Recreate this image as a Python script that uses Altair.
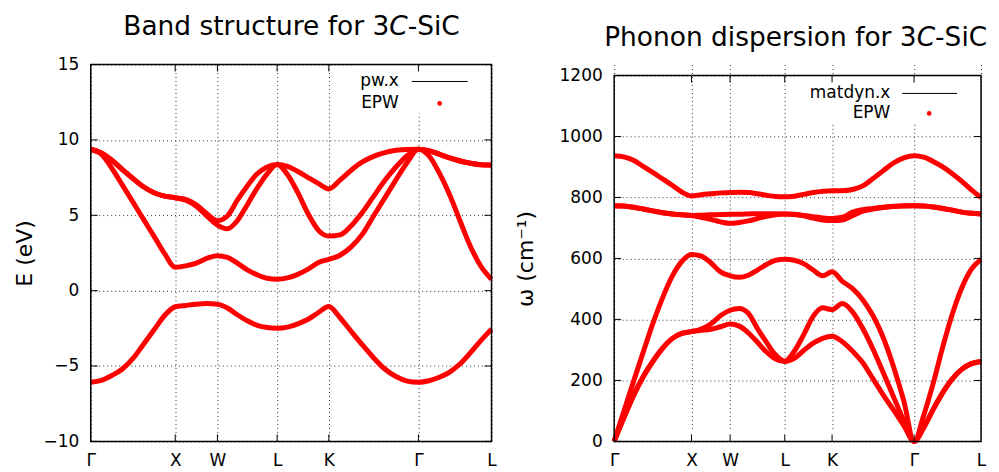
import altair as alt
import pandas as pd

# ---------------- data ----------------
K_PATH = [0.0, 0.125, 0.25, 0.375, 0.5, 0.625, 0.75, 0.875, 1.0,
          1.125, 1.25, 1.375, 1.5,
          1.618, 1.736, 1.854, 1.971, 2.089, 2.207,
          2.329, 2.452, 2.574, 2.697, 2.819,
          2.952, 3.084, 3.217, 3.349, 3.482, 3.614, 3.747, 3.880,
          4.004, 4.127, 4.251, 4.375, 4.499, 4.622, 4.746]
NODE_K = [0.0, 1.0, 1.5, 2.207, 2.819, 3.880, 4.746]
NODE_LABELS = ["Γ", "X", "W", "L", "K", "Γ", "L"]

# electronic bands (eV)
BAND_1 = [-6.08, -5.95, -5.63, -5.2, -4.5, -3.55, -2.6, -1.65, -1.07,
          -0.98, -0.9, -0.86, -0.9,
          -1.15, -1.6, -2.0, -2.3, -2.45, -2.5,
          -2.42, -2.2, -1.9, -1.45, -1.05,
          -1.8, -2.7, -3.6, -4.45, -5.2, -5.7, -6.0, -6.08,
          -5.98, -5.75, -5.4, -4.85, -4.1, -3.3, -2.55]
BAND_2 = [9.38, 9.05, 8.12, 7.0, 5.87, 4.73, 3.6, 2.45, 1.55,
          1.64, 1.82, 2.15, 2.32,
          2.21, 1.82, 1.38, 1.05, 0.82, 0.76,
          0.85, 1.08, 1.43, 1.87, 2.08,
          2.35, 2.9, 3.75, 4.95, 6.15, 7.35, 8.5, 9.38,
          8.95, 7.81, 6.35, 4.6, 2.9, 1.6, 0.75]
BAND_3 = [9.38, 9.13, 8.65, 8.03, 7.44, 6.89, 6.49, 6.27, 6.16,
          6.0, 5.6, 4.95, 4.35,
          4.1, 4.65, 5.7, 6.8, 7.75, 8.37,
          7.7, 6.5, 5.1, 4.0, 3.62,
          3.7, 4.3, 5.2, 6.25, 7.3, 8.2, 8.95, 9.38,
          9.28, 9.05, 8.8, 8.6, 8.45, 8.35, 8.33]
BAND_4 = [9.38, 9.13, 8.65, 8.03, 7.44, 6.89, 6.49, 6.27, 6.16,
          6.05, 5.7, 5.1, 4.64,
          4.95, 6.0, 6.95, 7.75, 8.21, 8.37,
          8.25, 7.9, 7.5, 7.1, 6.75,
          7.33, 7.99, 8.54, 8.91, 9.16, 9.31, 9.37, 9.38,
          9.28, 9.05, 8.8, 8.6, 8.45, 8.35, 8.33]

# phonon branches (cm^-1)
TA_1 = [0, 77, 150, 212, 262, 305, 337, 354, 360,
        364, 368, 376, 385,
        378, 356, 325, 293, 270, 262,
        272, 298, 322, 338, 345,
        327, 296, 258, 205, 152, 103, 52, 0,
        45, 105, 160, 205, 237, 255, 262]
TA_2 = [0, 77, 150, 212, 262, 305, 337, 354, 360,
        368, 385, 412, 430,
        436, 420, 370, 325, 283, 263,
        295, 350, 410, 438, 432,
        452, 425, 370, 302, 225, 146, 68, 0,
        45, 105, 160, 205, 237, 255, 262]
LA = [0, 98, 196, 292, 386, 470, 541, 590, 613,
      608, 586, 556, 543,
      538, 545, 562, 580, 594, 597,
      594, 583, 562, 543, 556,
      525, 501, 464, 412, 340, 245, 133, 0,
      85, 190, 310, 418, 505, 565, 597]
TO_1 = [773, 772, 768, 762, 756, 750, 746, 743, 741,
        735, 728, 720, 715,
        718, 723, 731, 738, 743, 746,
        745, 740, 732, 726, 724,
        726, 740, 755, 762, 767, 770, 772, 773,
        772, 769, 764, 758, 752, 748, 746]
TO_2 = [773, 772, 768, 762, 756, 750, 746, 743, 741,
        742, 743, 744, 745,
        745, 746, 747, 747, 747, 746,
        744, 741, 737, 733, 731,
        735, 752, 760, 764, 768, 771, 773, 773,
        772, 769, 764, 758, 752, 748, 746]
LO = [937, 933, 922, 902, 882, 861, 840, 818, 805,
      809, 812, 815, 816,
      817, 816, 812, 807, 803, 802,
      804, 810, 816, 820, 822,
      822, 826, 838, 862, 888, 913, 930, 937,
      932, 918, 900, 878, 853, 825, 800]

E_TICKS = [-10, -5, 0, 5, 10, 15]
W_TICKS = [0, 200, 400, 600, 800, 1000, 1200]

FONT = "DejaVu Sans"
RED = "#ff0000"


def long_df(bands):
    rows = []
    for name, vals in bands.items():
        for k, v in zip(K_PATH, vals):
            rows.append({"k": k, "v": v, "band": name})
    return pd.DataFrame(rows)


mids = [(NODE_K[i] + NODE_K[i + 1]) / 2 for i in range(len(NODE_K) - 1)]
label_expr = ""
for m, lab in zip(mids, NODE_LABELS[:-1]):
    label_expr += f"datum.value < {m:.4f} ? '{lab}' : "
label_expr += f"'{NODE_LABELS[-1]}'"

ONE = alt.Data(values=[{"a": 1}])


def text_mark(txt, x, y, align="left", size=17, style="normal", baseline="middle"):
    return alt.Chart(ONE).mark_text(
        align=align, baseline=baseline, font=FONT, fontSize=size,
        fontStyle=style, color="black"
    ).encode(x=alt.value(x), y=alt.value(y), text=alt.value(txt))


def title_marks(prefix, prefix_em, cx, y, fs=26.5):
    w1 = prefix_em * fs
    wc = 0.698 * fs
    w3 = 1.972 * fs
    total = w1 + wc + w3
    left = cx - total / 2
    return [
        text_mark(prefix, left + w1, y, align="right", size=fs, baseline="alphabetic"),
        text_mark("C", left + w1 + wc / 2, y, align="center", size=fs, style="italic", baseline="alphabetic"),
        text_mark("-SiC", left + w1 + wc, y, align="left", size=fs, baseline="alphabetic"),
    ]


def panel(df, ydom, yticks, ytitle, tpad, width, height, top, leg_name, leg,
          title_prefix, title_em, title_dx):
    xs = alt.X("k:Q", scale=alt.Scale(domain=[0, NODE_K[-1]], nice=False, zero=False),
               axis=alt.Axis(values=NODE_K, labelExpr=label_expr, title=None, grid=True,
                             ticks=False, tickSize=0, domain=False, labelFont=FONT,
                             labelFontSize=17, labelPadding=11, labelFlush=False,
                             labelOverlap=False, labelColor="black",
                             gridDash=[1, 3], gridColor="#333333", gridWidth=1))
    ys = alt.Y("v:Q", scale=alt.Scale(domain=ydom, range=[height, top], nice=False, zero=False),
               axis=alt.Axis(values=yticks, format="d", title=ytitle, grid=True, ticks=False,
                             tickSize=0, domain=False, labelFont=FONT, labelFontSize=17,
                             labelPadding=12, labelColor="black", labelFlush=False,
                             labelOverlap=False, titleFont=FONT, titleFontSize=22,
                             titleFontWeight="normal", titleColor="black", titlePadding=tpad,
                             gridDash=[1, 3], gridColor="#333333", gridWidth=1))
    base = alt.Chart(df)
    layers = []
    # legend background (hides grid behind the key)
    lx0, lx1, ly1 = leg["box"]
    layers.append(alt.Chart(ONE).mark_rect(color="white").encode(
        x=alt.value(lx0), x2=alt.value(lx1), y=alt.value(top + 1), y2=alt.value(top + ly1)))
    layers.append(base.mark_line(color="black", strokeWidth=1, interpolate="monotone").encode(
        x=xs, y=ys, detail="band:N"))
    layers.append(base.mark_line(color=RED, strokeWidth=5, interpolate="monotone").encode(
        x=xs, y=ys, detail="band:N"))
    # inward ticks
    ydf = alt.Chart(pd.DataFrame({"v": yticks}))
    layers.append(ydf.mark_rule(color="black", strokeWidth=1).encode(
        y=ys, x=alt.value(0), x2=alt.value(7)))
    layers.append(ydf.mark_rule(color="black", strokeWidth=1).encode(
        y=ys, x=alt.value(width - 7), x2=alt.value(width)))
    xdf = alt.Chart(pd.DataFrame({"k": NODE_K[1:-1]}))
    layers.append(xdf.mark_rule(color="black", strokeWidth=1).encode(
        x=xs, y=alt.value(height - 7), y2=alt.value(height)))
    layers.append(xdf.mark_rule(color="black", strokeWidth=1).encode(
        x=xs, y=alt.value(top), y2=alt.value(top + 7)))
    # frame
    layers.append(alt.Chart(ONE).mark_rect(filled=False, stroke="black", strokeWidth=1.5).encode(
        x=alt.value(0), x2=alt.value(width), y=alt.value(top), y2=alt.value(height)))
    # key
    tx, ly_a, ly_b, l0, l1, dotx = leg["pos"]
    layers.append(text_mark(leg_name, tx, top + ly_a, align="right"))
    layers.append(alt.Chart(ONE).mark_rule(color="black", strokeWidth=1).encode(
        x=alt.value(l0), x2=alt.value(l1), y=alt.value(top + ly_a)))
    layers.append(text_mark("EPW", tx, top + ly_b, align="right"))
    layers.append(alt.Chart(ONE).mark_point(filled=True, color=RED, size=22, opacity=1).encode(
        x=alt.value(dotx), y=alt.value(top + ly_b)))
    # title
    layers += title_marks(title_prefix, title_em, width / 2 + title_dx, top - 30)
    return alt.layer(*layers).properties(width=width, height=height)


band_df = long_df({"b1": BAND_1, "b2": BAND_2, "b3": BAND_3, "b4": BAND_4})
ph_df = long_df({"ta1": TA_1, "ta2": TA_2, "la": LA, "to1": TO_1, "to2": TO_2, "lo": LO})

left = panel(band_df, [-10, 15], E_TICKS, "E (eV)", 7, 402, 378, 0, "pw.x",
             {"box": (262, 396, 49), "pos": (309, 17, 39, 322, 378, 350)},
             "Band structure for 3", 10.093, 0)
right = panel(ph_df, [0, 1200], W_TICKS, "ω (cm⁻¹)", 22, 368, 378, 11, "matdyn.x",
              {"box": (186, 362, 48), "pos": (277, 18, 38, 289, 344, 316)},
              "Phonon dispersion for 3", 11.834, -2)

chart = alt.hconcat(left, right, spacing=12).configure_view(
    strokeWidth=0
).properties(padding={"left": 5, "top": 5, "right": 0, "bottom": 0})

chart.save("out.html", embed_options={"renderer": "svg", "actions": False})
